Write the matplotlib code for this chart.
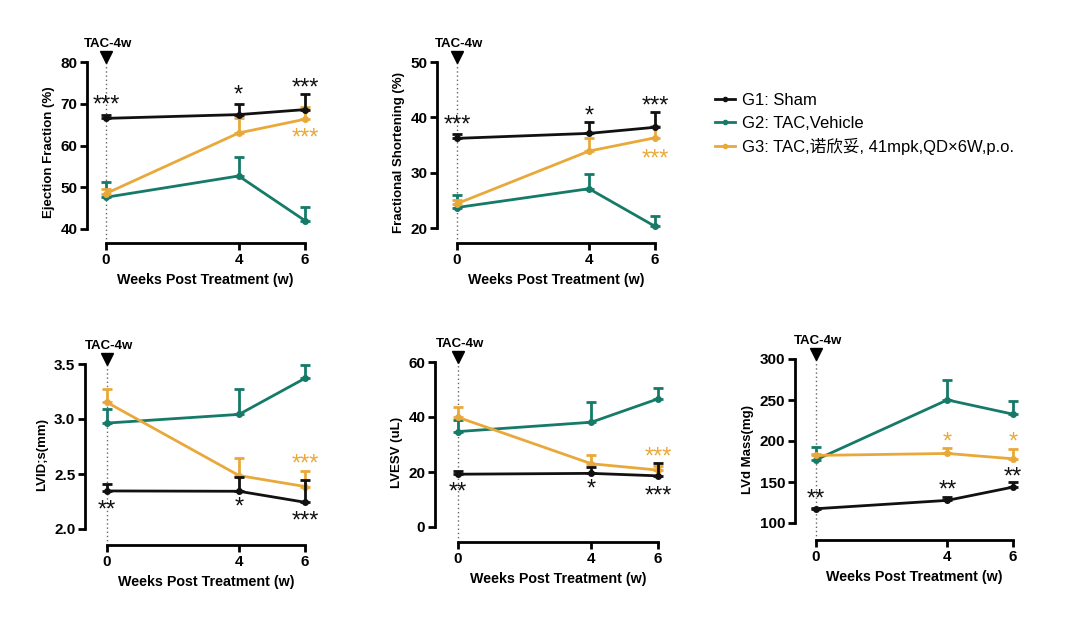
import matplotlib
matplotlib.use("Agg")
from matplotlib import pyplot as plt
from matplotlib.lines import Line2D
from matplotlib.transforms import offset_copy

plt.rcParams["font.family"] = ["Liberation Sans", "Noto Sans CJK SC", "DejaVu Sans"]

BLACK = "#111111"
TEAL = "#157a68"
ORANGE = "#e9a93a"

weeks = [0, 4, 6]

ef_sham = [66.5, 67.4, 68.6]
ef_sham_err = [0.9, 2.6, 3.7]
ef_veh = [47.6, 52.7, 42.0]
ef_veh_err = [3.7, 4.5, 3.2]
ef_ent = [48.5, 63.0, 66.3]
ef_ent_err = [1.0, 3.6, 2.9]

fs_sham = [36.2, 37.1, 38.2]
fs_sham_err = [0.7, 2.1, 2.8]
fs_veh = [23.7, 27.1, 20.3]
fs_veh_err = [2.2, 2.6, 1.8]
fs_ent = [24.4, 33.9, 36.3]
fs_ent_err = [0.6, 2.3, 2.2]

lvid_sham = [2.346, 2.343, 2.243]
lvid_sham_err = [0.064, 0.127, 0.203]
lvid_veh = [2.963, 3.042, 3.37]
lvid_veh_err = [0.13, 0.233, 0.124]
lvid_ent = [3.151, 2.486, 2.386]
lvid_ent_err = [0.124, 0.158, 0.142]

lvesv_sham = [19.2, 19.5, 18.6]
lvesv_sham_err = [1.0, 2.4, 4.6]
lvesv_veh = [34.7, 38.1, 46.6]
lvesv_veh_err = [4.2, 7.4, 4.1]
lvesv_ent = [39.9, 23.0, 20.7]
lvesv_ent_err = [3.7, 3.3, 1.5]

mass_sham = [117.4, 127.6, 143.8]
mass_sham_err = [1.5, 4.4, 6.1]
mass_veh = [177.1, 250.1, 232.7]
mass_veh_err = [15.0, 24.3, 16.2]
mass_ent = [182.4, 184.8, 178.3]
mass_ent_err = [1.5, 6.9, 12.2]

# significance marks: (week, y, text, color)
ef_stars = [(0, 70.6, "***", BLACK), (4, 73.0, "*", BLACK), (6, 74.6, "***", BLACK), (6, 62.6, "***", ORANGE)]
fs_stars = [(0, 39.2, "***", BLACK), (4, 40.9, "*", BLACK), (6, 42.7, "***", BLACK), (6, 33.1, "***", ORANGE)]
lvid_stars = [(0, 2.20, "**", BLACK), (4, 2.23, "*", BLACK), (6, 2.10, "***", BLACK), (6, 2.62, "***", ORANGE)]
lvesv_stars = [(0, 14.0, "**", BLACK), (4, 15.0, "*", BLACK), (6, 12.5, "***", BLACK), (6, 26.8, "***", ORANGE)]
mass_stars = [(0, 133, "**", BLACK), (4, 144.6, "**", BLACK), (6, 160, "**", BLACK),
              (4, 203, "*", ORANGE), (6, 203, "*", ORANGE)]

labels = ["G1: Sham", "G2: TAC,Vehicle", "G3: TAC,诺欣妥, 41mpk,QD×6W,p.o."]

W, H = 1080, 625
fig = plt.figure(figsize=(W / 100, H / 100), dpi=100)


def make_panel(px, ylim, yticks, ylabel, series, stars):
    # px: y-spine x, x of week 0, x of week 6, y of ymax, y of ymin, y of x-axis (pixels)
    yspine, x0, x6, ytop, ybot, xaxis = px
    right = x6 + 8
    ax = fig.add_axes([yspine / W, 1 - xaxis / H, (right - yspine) / W, (xaxis - ytop) / H])
    sx = (x6 - x0) / 6
    sy = (ybot - ytop) / (ylim[1] - ylim[0])
    xl = (-(x0 - yspine) / sx, 6 + 8 / sx)
    ax.set_xlim(xl)
    ax.set_ylim(ylim[0] - (xaxis - ybot) / sy, ylim[1])

    for sp in ["top", "right"]:
        ax.spines[sp].set_visible(False)
    for sp in ["left", "bottom"]:
        ax.spines[sp].set_linewidth(2.0)
    ax.spines["left"].set_bounds(ylim[0], ylim[1])
    ax.spines["bottom"].set_bounds(0, 6)
    ax.set_xticks(weeks)
    ax.set_yticks(yticks)
    ax.tick_params(width=2.0, length=5, labelsize=11, pad=2)
    for t in ax.get_xticklabels() + ax.get_yticklabels():
        t.set_fontweight("bold")

    ax.plot([0, 0], [ax.get_ylim()[0], ylim[1]], ls=(0, (1, 2)), color="#666666", lw=1, zorder=1,
            clip_on=False)
    tri = offset_copy(ax.transData, fig=fig, x=0, y=5, units="dots")
    ax.plot([0], [ylim[1]], marker="v", color="black", markersize=9, transform=tri, clip_on=False)
    ax.text(0, ylim[1], "TAC-4w", transform=offset_copy(ax.transData, fig=fig, x=2, y=12, units="dots"),
            ha="center", va="bottom", fontsize=9.5, fontweight="bold")

    for vals, errs, color, z in series:
        ax.errorbar(weeks, vals, yerr=[[0] * len(errs), errs], color=color, lw=2, elinewidth=2,
                    capsize=3.5, capthick=2, marker="o", markersize=4, zorder=z, clip_on=False)
    star_tr = offset_copy(ax.transData, fig=fig, x=0, y=-4, units="dots")
    for x, y, txt, color in stars:
        ax.text(x, y, txt, color=color, ha="center", va="center", fontsize=17, transform=star_tr)

    ax.set_xlabel("Weeks Post Treatment (w)", fontsize=10.3, fontweight="bold")
    # centre the x label on the 0-6 span, as the reference does
    ax.xaxis.set_label_coords((3 - xl[0]) / (xl[1] - xl[0]), -30 / (xaxis - ytop))
    ax.set_ylabel(ylabel, fontsize=9.5, fontweight="bold", labelpad=4)
    return ax


make_panel((87, 106, 305, 62, 229, 243), (40, 80), [40, 50, 60, 70, 80], "Ejection Fraction (%)",
           [(ef_veh, ef_veh_err, TEAL, 3), (ef_ent, ef_ent_err, ORANGE, 4), (ef_sham, ef_sham_err, BLACK, 5)],
           ef_stars)
make_panel((437, 457, 655, 62, 228, 243), (20, 50), [20, 30, 40, 50], "Fractional Shortening (%)",
           [(fs_veh, fs_veh_err, TEAL, 3), (fs_ent, fs_ent_err, ORANGE, 4), (fs_sham, fs_sham_err, BLACK, 5)],
           fs_stars)
make_panel((85, 107, 305, 364, 529, 545), (2.0, 3.5), [2.0, 2.5, 3.0, 3.5], "LVID;s(mm)",
           [(lvid_veh, lvid_veh_err, TEAL, 3), (lvid_ent, lvid_ent_err, ORANGE, 4),
            (lvid_sham, lvid_sham_err, BLACK, 5)],
           lvid_stars)
make_panel((435, 458, 658, 362, 527, 542), (0, 60), [0, 20, 40, 60], "LVESV (uL)",
           [(lvesv_veh, lvesv_veh_err, TEAL, 3), (lvesv_ent, lvesv_ent_err, ORANGE, 4),
            (lvesv_sham, lvesv_sham_err, BLACK, 5)],
           lvesv_stars)
make_panel((795, 816, 1013, 359, 523, 540), (100, 300), [100, 150, 200, 250, 300], "LVd Mass(mg)",
           [(mass_veh, mass_veh_err, TEAL, 3), (mass_ent, mass_ent_err, ORANGE, 4),
            (mass_sham, mass_sham_err, BLACK, 5)],
           mass_stars)

handles = [Line2D([], [], color=c, lw=2, marker="o", markersize=3) for c in [BLACK, TEAL, ORANGE]]
fig.legend(handles, labels, loc="upper left", bbox_to_anchor=(700 / W, 1 - 78 / H), frameon=False,
           fontsize=12, handlelength=1.2, handletextpad=0.4, labelspacing=0.45)

fig.savefig("out.png", dpi=100, facecolor="white")
